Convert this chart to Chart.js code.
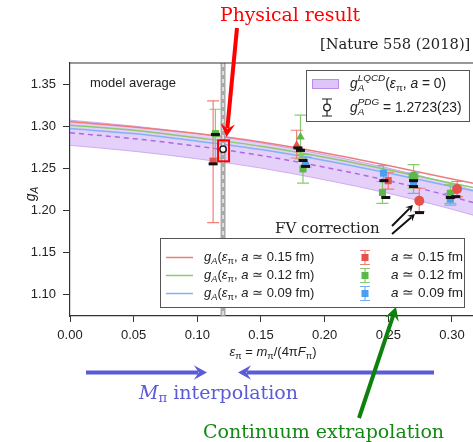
<!DOCTYPE html>
<html>
<head>
<meta charset="utf-8">
<script src="https://cdn.jsdelivr.net/npm/chart.js@4.4.0/dist/chart.umd.min.js"></script>
<style>
body { margin: 0; background: #fff; }
#wrap { position: relative; width: 473px; height: 442px; overflow: hidden; }
#chart { position: absolute; left: 0; top: 0; }
.note { position: absolute; font-family: "DejaVu Serif", serif; white-space: nowrap; line-height: 1; }
.note sub { font-size: 0.7em; vertical-align: -0.25em; line-height: 0; }
</style>
</head>
<body>
<div id="wrap">
<canvas id="chart" width="473" height="442"></canvas>
<div class="note" style="left:220px;top:6px;font-size:18.8px;color:#f00">Physical result</div>
<div class="note" style="left:320px;top:37px;font-size:14.7px;color:#222">[Nature 558 (2018)]</div>
<div class="note" style="left:275px;top:221px;font-size:15px;color:#222">FV correction</div>
<div class="note" style="left:139px;top:383px;font-size:19px;color:#5b5bd6"><i>M</i><sub>π</sub> interpolation</div>
<div class="note" style="left:203px;top:422px;font-size:19px;color:#128a12">Continuum extrapolation</div>
</div>
<script>
// fit curves, sampled along eps_pi
const curveX  = [0, 0.05, 0.10, 0.15, 0.20, 0.25, 0.30, 0.3165];
const fitA015 = [1.305, 1.299, 1.291, 1.281, 1.268, 1.253, 1.237, 1.232];
const fitA012 = [1.301, 1.295, 1.286, 1.276, 1.263, 1.248, 1.232, 1.227];
const fitA009 = [1.297, 1.291, 1.282, 1.272, 1.259, 1.244, 1.228, 1.223];
const fitCont = [1.292, 1.285, 1.276, 1.265, 1.251, 1.235, 1.216, 1.209];
const bandHi  = [1.307, 1.300, 1.291, 1.280, 1.266, 1.250, 1.231, 1.224];
const bandLo  = [1.277, 1.270, 1.261, 1.250, 1.236, 1.220, 1.201, 1.194];

// lattice data: x, central value, lower / upper end of error bar
const a015X  = [0.1124, 0.178, 0.2499, 0.2743, 0.304];
const a015Y  = [1.258, 1.277, 1.235, 1.211, 1.225];
const a015Lo = [1.185, 1.262, 1.225, 1.198, 1.216];
const a015Hi = [1.330, 1.295, 1.245, 1.226, 1.234];
const a015Shape = ['rect', 'triangle', 'rect', 'circle', 'circle'];

const a012X  = [0.1142, 0.181, 0.183, 0.2454, 0.2698, 0.2987];
const a012Y  = [1.291, 1.287, 1.249, 1.221, 1.240, 1.220];
const a012Lo = [1.262, 1.261, 1.232, 1.208, 1.226, 1.208];
const a012Hi = [1.320, 1.313, 1.266, 1.234, 1.254, 1.230];
const a012Shape = ['rect', 'triangle', 'rect', 'rect', 'circle', 'rect'];

const a009X  = [0.185, 0.2462, 0.2698, 0.2987];
const a009Y  = [1.257, 1.244, 1.232, 1.213];
const a009Lo = [1.251, 1.234, 1.220, 1.206];
const a009Hi = [1.263, 1.253, 1.244, 1.220];
const a009Shape = ['triangle', 'rect', 'rect', 'rect'];

// finite-volume corrected values (black bars)
const fvX = [0.1124, 0.1142, 0.179, 0.181, 0.183, 0.185, 0.2465, 0.248, 0.2698, 0.2698, 0.2745, 0.2987, 0.303];
const fvY = [1.255, 1.290, 1.274, 1.271, 1.259, 1.252, 1.235, 1.215, 1.235, 1.228, 1.197, 1.215, 1.216];

const pdgX = 0.1202, pdgY = 1.2723, pdgErr = 0.0023;
const physX = 0.1202;

const xTicks = [0, 0.05, 0.10, 0.15, 0.20, 0.25, 0.30];
const yTicks = [1.10, 1.15, 1.20, 1.25, 1.30, 1.35];

const RED = '#e4524a', GREEN = '#5cb848', BLUE = '#4b9ef0';
const SANS = '"Liberation Sans", Arial, sans-serif';

const pts = (xs, ys) => xs.map((x, i) => ({ x: x, y: ys[i] }));

function rich(ctx, x, y, parts, size, color, draw) {
    ctx.fillStyle = color;
    ctx.textBaseline = 'middle';
    ctx.textAlign = 'left';
    let cx = x, prevStart = x;
    parts.forEach(p => {
        const s = (p.sub || p.sup) ? size * 0.72 : size;
        ctx.font = (p.i ? 'italic ' : '') + s + 'px ' + SANS;
        const start = p.stack ? prevStart : cx;
        const dy = p.sub ? size * 0.32 : (p.sup ? -size * 0.4 : 0);
        if (draw !== false) ctx.fillText(p.t, start, y + dy);
        const end = start + ctx.measureText(p.t).width;
        if (!p.stack) prevStart = start;
        cx = p.stack ? Math.max(cx, end) : end;
    });
    return cx - x;
}

function arrow(ctx, x1, y1, x2, y2, color, w, head) {
    const ang = Math.atan2(y2 - y1, x2 - x1);
    const c = Math.cos(ang), s = Math.sin(ang);
    ctx.strokeStyle = color;
    ctx.lineWidth = w;
    ctx.beginPath();
    ctx.moveTo(x1, y1);
    ctx.lineTo(x2 - c * head * 0.6, y2 - s * head * 0.6);
    ctx.stroke();
    ctx.fillStyle = color;
    ctx.beginPath();
    ctx.moveTo(x2, y2);
    ctx.lineTo(x2 - head * Math.cos(ang - 0.5), y2 - head * Math.sin(ang - 0.5));
    ctx.lineTo(x2 - c * head * 0.55, y2 - s * head * 0.55);
    ctx.lineTo(x2 - head * Math.cos(ang + 0.5), y2 - head * Math.sin(ang + 0.5));
    ctx.closePath();
    ctx.fill();
}

function errBar(ctx, px, pLo, pHi, color, cap) {
    ctx.strokeStyle = color;
    ctx.lineWidth = 1.2;
    ctx.beginPath();
    ctx.moveTo(px, pLo); ctx.lineTo(px, pHi);
    ctx.moveTo(px - cap, pLo); ctx.lineTo(px + cap, pLo);
    ctx.moveTo(px - cap, pHi); ctx.lineTo(px + cap, pHi);
    ctx.stroke();
}

const errorBars = {
    id: 'errorBars',
    afterDatasetDraw(chart, args) {
        if (args.index !== 5) return;
        const ctx = chart.ctx, xs = chart.scales.x, ys = chart.scales.y, area = chart.chartArea;
        ctx.save();
        // physical pion mass line
        const gx = xs.getPixelForValue(physX);
        ctx.strokeStyle = 'rgba(160,160,160,0.9)';
        ctx.lineWidth = 5;
        ctx.beginPath(); ctx.moveTo(gx, area.top); ctx.lineTo(gx, area.bottom); ctx.stroke();
        ctx.strokeStyle = '#fff';
        ctx.lineWidth = 1.2;
        ctx.setLineDash([4, 4]);
        ctx.beginPath(); ctx.moveTo(gx, area.top); ctx.lineTo(gx, area.bottom); ctx.stroke();
        ctx.setLineDash([]);
        const sets = [
            [a009X, a009Lo, a009Hi, 'rgba(110,170,245,0.95)'],
            [a012X, a012Lo, a012Hi, 'rgba(130,200,100,0.95)'],
            [a015X, a015Lo, a015Hi, 'rgba(240,120,115,0.95)']
        ];
        sets.forEach(([X, Lo, Hi, col]) => {
            X.forEach((x, i) => {
                errBar(ctx, xs.getPixelForValue(x), ys.getPixelForValue(Lo[i]), ys.getPixelForValue(Hi[i]), col, 6);
            });
        });
        errBar(ctx, xs.getPixelForValue(pdgX), ys.getPixelForValue(pdgY - pdgErr), ys.getPixelForValue(pdgY + pdgErr), '#222', 3);
        ctx.restore();
    }
};

const decorations = {
    id: 'decorations',
    afterDraw(chart) {
        const ctx = chart.ctx, xs = chart.scales.x, ys = chart.scales.y, area = chart.chartArea;
        ctx.save();
        // top frame line
        ctx.strokeStyle = '#333';
        ctx.lineWidth = 1.2;
        ctx.beginPath(); ctx.moveTo(area.left, area.top); ctx.lineTo(473, area.top); ctx.stroke();

        // model average
        ctx.font = '13px ' + SANS;
        ctx.fillStyle = '#222';
        ctx.textBaseline = 'middle';
        ctx.fillText('model average', 90, 83);

        // axis titles
        const xt = [{ t: 'ε', i: true }, { t: 'π', sub: true }, { t: ' = ' }, { t: 'm', i: true }, { t: 'π', sub: true },
                    { t: '/(4π' }, { t: 'F', i: true }, { t: 'π', sub: true }, { t: ')' }];
        const w = rich(ctx, 0, 0, xt, 13, '#222', false);
        rich(ctx, 273 - w / 2, 352, xt, 13, '#222');
        ctx.save();
        ctx.translate(31, 194);
        ctx.rotate(-Math.PI / 2);
        const yt = [{ t: 'g', i: true }, { t: 'A', i: true, sub: true }];
        const wy = rich(ctx, 0, 0, yt, 14, '#222', false);
        rich(ctx, -wy / 2, 0, yt, 14, '#222');
        ctx.restore();

        // top legend
        ctx.fillStyle = '#fff';
        ctx.fillRect(306, 70, 164, 52);
        ctx.strokeStyle = '#555';
        ctx.lineWidth = 1;
        ctx.strokeRect(306.5, 70.5, 163, 51);
        ctx.fillStyle = 'rgba(195,150,240,0.55)';
        ctx.fillRect(312, 79, 27, 10);
        ctx.strokeStyle = 'rgba(175,115,230,0.7)';
        ctx.strokeRect(312.5, 79.5, 26, 9);
        rich(ctx, 350, 84, [{ t: 'g', i: true }, { t: 'A', i: true, sub: true }, { t: 'LQCD', i: true, sup: true, stack: true },
                            { t: '(' }, { t: 'ε', i: true }, { t: 'π', sub: true }, { t: ', ' }, { t: 'a', i: true }, { t: ' = 0)' }], 13.8, '#222');
        errBar(ctx, 327, 116, 99, '#222', 5);
        ctx.beginPath(); ctx.arc(327, 107.5, 3.3, 0, Math.PI * 2);
        ctx.fillStyle = '#fff'; ctx.fill(); ctx.lineWidth = 1.3; ctx.stroke();
        rich(ctx, 350, 108, [{ t: 'g', i: true }, { t: 'A', i: true, sub: true }, { t: 'PDG', i: true, sup: true, stack: true },
                             { t: ' = 1.2723(23)' }], 13.8, '#222');

        // bottom legend
        ctx.fillStyle = '#fff';
        ctx.fillRect(160, 238, 305, 70);
        ctx.strokeStyle = '#555';
        ctx.lineWidth = 1;
        ctx.strokeRect(160.5, 238.5, 304, 69);
        const rows = [['0.15', 'rgba(235,125,125,1)', RED, 'rgba(240,120,115,0.95)'],
                      ['0.12', 'rgba(140,200,110,1)', GREEN, 'rgba(130,200,100,0.95)'],
                      ['0.09', 'rgba(130,178,245,1)', BLUE, 'rgba(110,170,245,0.95)']];
        rows.forEach(([a, lc, mc, ec], k) => {
            const ry = 257.5 + k * 18;
            ctx.strokeStyle = lc; ctx.lineWidth = 1.5;
            ctx.beginPath(); ctx.moveTo(166, ry); ctx.lineTo(193, ry); ctx.stroke();
            rich(ctx, 204, ry, [{ t: 'g', i: true }, { t: 'A', i: true, sub: true }, { t: '(' }, { t: 'ε', i: true }, { t: 'π', sub: true },
                               { t: ', ' }, { t: 'a', i: true }, { t: ' ≃ ' + a + ' fm)' }], 13, '#222');
            errBar(ctx, 365, ry + 7, ry - 7, ec, 5);
            ctx.fillStyle = mc; ctx.fillRect(361.5, ry - 3.5, 7, 7);
            rich(ctx, 391, ry, [{ t: 'a', i: true }, { t: ' ≃ ' + a + ' fm' }], 13.5, '#222');
        });

        // physical result box and arrow
        const px = xs.getPixelForValue(pdgX), py = ys.getPixelForValue(pdgY);
        ctx.strokeStyle = '#f00'; ctx.lineWidth = 2;
        ctx.strokeRect(px - 5, py - 9, 11, 21);
        arrow(ctx, 237, 28, 226.5, 137, '#f00', 4, 15);

        // FV correction arrows
        arrow(ctx, 392, 226, 413, 205, '#111', 2, 8);
        arrow(ctx, 392, 234, 415, 214, '#111', 2, 8);

        // interpolation arrows
        arrow(ctx, 86, 372.5, 207, 372.5, '#5b5bd6', 4, 15);
        arrow(ctx, 434, 372.5, 238, 372.5, '#5b5bd6', 4, 15);

        // continuum extrapolation arrow
        arrow(ctx, 359, 418, 396, 307, '#0d800d', 4, 15);
        ctx.restore();
    }
};

const ctx = document.getElementById('chart').getContext('2d');
new Chart(ctx, {
    type: 'scatter',
    data: {
        datasets: [
            { data: pts(fvX, fvY), pointStyle: 'line', pointRadius: 4.5, borderWidth: 3, borderColor: '#111', backgroundColor: '#111' },
            { data: [{ x: pdgX, y: pdgY }], pointStyle: 'circle', pointRadius: 3.2, borderWidth: 1.5, borderColor: '#222', backgroundColor: '#fff' },
            { data: pts(a015X, a015Y), pointStyle: a015Shape, pointRadius: 5, borderWidth: 0, backgroundColor: RED, borderColor: RED },
            { data: pts(a012X, a012Y), pointStyle: a012Shape, pointRadius: 5, borderWidth: 0, backgroundColor: GREEN, borderColor: GREEN },
            { data: pts(a009X, a009Y), pointStyle: a009Shape, pointRadius: 5, borderWidth: 0, backgroundColor: BLUE, borderColor: BLUE },
            { data: pts(curveX, fitA015), showLine: true, pointRadius: 0, borderColor: 'rgba(235,125,125,1)', borderWidth: 1.5, cubicInterpolationMode: 'monotone' },
            { data: pts(curveX, fitA012), showLine: true, pointRadius: 0, borderColor: 'rgba(140,200,110,1)', borderWidth: 1.5, cubicInterpolationMode: 'monotone' },
            { data: pts(curveX, fitA009), showLine: true, pointRadius: 0, borderColor: 'rgba(130,178,245,1)', borderWidth: 1.5, cubicInterpolationMode: 'monotone' },
            { data: pts(curveX, fitCont), showLine: true, pointRadius: 0, borderColor: 'rgba(170,105,230,1)', borderWidth: 1.5, borderDash: [5, 4], cubicInterpolationMode: 'monotone' },
            { data: pts(curveX, bandHi), showLine: true, pointRadius: 0, borderColor: 'rgba(180,125,235,0.6)', borderWidth: 1, fill: '+1', backgroundColor: 'rgba(195,150,240,0.45)', cubicInterpolationMode: 'monotone' },
            { data: pts(curveX, bandLo), showLine: true, pointRadius: 0, borderColor: 'rgba(180,125,235,0.6)', borderWidth: 1, cubicInterpolationMode: 'monotone' }
        ]
    },
    options: {
        responsive: false,
        animation: false,
        devicePixelRatio: 1,
        layout: { autoPadding: false, padding: { top: 63, left: 0, right: 0, bottom: 0 } },
        plugins: { legend: { display: false }, tooltip: { enabled: false } },
        scales: {
            x: {
                type: 'linear', min: 0, max: 0.3165,
                afterFit(scale) { scale.height = 126; scale.paddingLeft = 0; scale.paddingRight = 0; },
                afterBuildTicks(scale) { scale.ticks = xTicks.map(v => ({ value: v })); },
                border: { display: true, color: '#333', width: 1.2 },
                grid: { display: true, drawOnChartArea: false, drawTicks: true, tickLength: 6, color: '#333' },
                ticks: { font: { family: SANS, size: 13 }, color: '#222', padding: 6, maxRotation: 0, autoSkip: false,
                         callback: v => v.toFixed(2) }
            },
            y: {
                type: 'linear', min: 1.074, max: 1.375,
                afterFit(scale) { scale.width = 70; scale.paddingTop = 0; scale.paddingBottom = 0; },
                afterBuildTicks(scale) { scale.ticks = yTicks.map(v => ({ value: v })); },
                border: { display: true, color: '#333', width: 1.2 },
                grid: { display: true, drawOnChartArea: false, drawTicks: true, tickLength: 7, color: '#333' },
                ticks: { font: { family: SANS, size: 13 }, color: '#222', padding: 7,
                         callback: v => v.toFixed(2) }
            }
        }
    },
    plugins: [errorBars, decorations]
});
</script>
</body>
</html>
